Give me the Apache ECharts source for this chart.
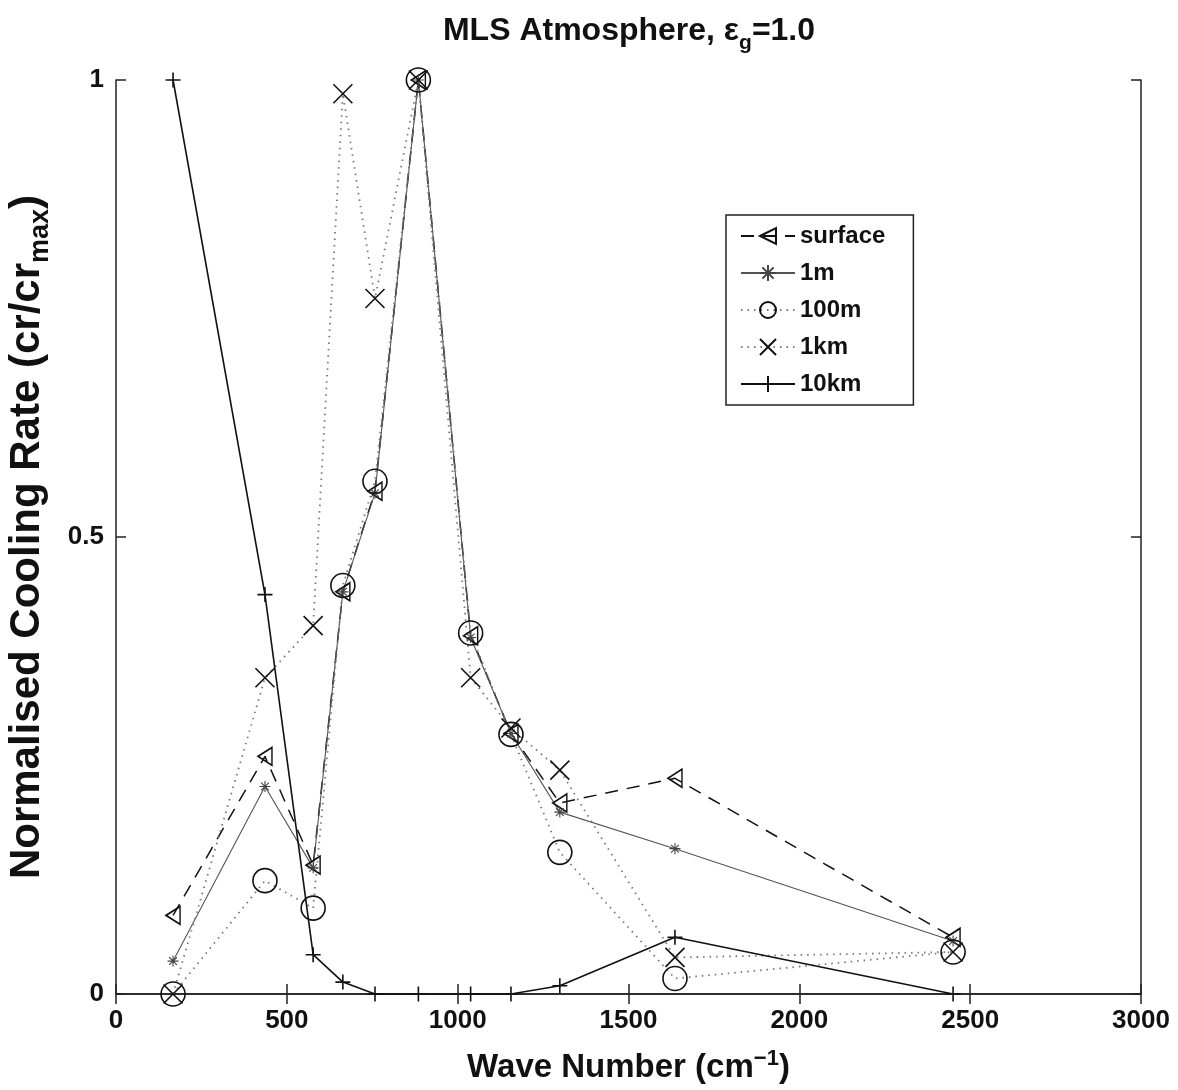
<!DOCTYPE html>
<html><head><meta charset="utf-8">
<script src="https://cdn.jsdelivr.net/npm/echarts@6/dist/echarts.min.js"></script>
<style>html,body{margin:0;padding:0;background:#fff}#c{width:1178px;height:1090px}</style>
</head><body><div id="c"></div>
<script>
// ---- data ----
const waveNumbers = [167, 436, 577, 664, 758, 885, 1038, 1156, 1299, 1636, 2450];
const surface = [0.086, 0.260, 0.141, 0.440, 0.550, 1.0, 0.392, 0.285, 0.209, 0.236, 0.062];
const m1      = [0.036, 0.227, 0.138, 0.440, 0.548, 1.0, 0.390, 0.285, 0.199, 0.159, 0.058];
const m100    = [0.000, 0.124, 0.094, 0.447, 0.561, 1.0, 0.395, 0.284, 0.155, 0.017, 0.046];
const km1     = [0.000, 0.346, 0.403, 0.985, 0.761, 1.0, 0.346, 0.291, 0.245, 0.040, 0.046];
const km10    = [1.000, 0.437, 0.043, 0.013, 0.000, 0.0, 0.000, 0.000, 0.009, 0.062, 0.000];
const seriesNames = ['surface', '1m', '100m', '1km', '10km'];
const xTickValues = [0, 500, 1000, 1500, 2000, 2500, 3000];
const yTickValues = [0, 0.5, 1];

const FONT = "'Liberation Sans', Arial, Helvetica, sans-serif";
const INK = '#111';

function pairs(ys) { return waveNumbers.map((x, i) => [x, ys[i]]); }

const SYM = {
  triLeft: 'path://M0,10L16,0L16,20Z',
  star: 'path://M10,0L10,20M0,10L20,10M3,3L17,17M17,3L3,17',
  circle: 'circle',
  cross: 'path://M0,0L20,20M20,0L0,20',
  plus: 'path://M10,0L10,20M0,10L20,10'
};

function mk(name, ys, symbol, size, line, sym) {
  return {
    name, type: 'line', data: pairs(ys), symbol, symbolSize: size,
    showAllSymbol: true, clip: false, silent: true,
    lineStyle: line,
    itemStyle: Object.assign({color: 'rgba(0,0,0,0)', borderColor: INK, borderWidth: 1.6}, sym || {}),
    emphasis: {disabled: true}
  };
}

const chart = echarts.init(document.getElementById('c'), null, {renderer: 'canvas'});
const axisLineStyle = {color: '#222', width: 1.5};
const commonX = {
  type: 'value', min: 0, max: 3000, interval: 500,
  axisLine: {show: true, lineStyle: axisLineStyle},
  axisTick: {show: true, inside: true, length: 10, lineStyle: axisLineStyle},
  splitLine: {show: false}
};
const commonY = {
  type: 'value', min: 0, max: 1, interval: 0.5,
  axisLine: {show: true, onZero: false, lineStyle: axisLineStyle},
  axisTick: {show: true, inside: true, length: 10, lineStyle: axisLineStyle},
  splitLine: {show: false}
};

chart.setOption({
  animation: false,
  backgroundColor: '#fff',
  title: {
    text: 'MLS Atmosphere, ε{g|g}=1.0',
    left: 624, textAlign: 'center', top: 3,
    textStyle: {
      fontFamily: FONT, fontSize: 32, fontWeight: 'bold', color: INK, lineHeight: 46,
      rich: {g: {fontFamily: FONT, fontSize: 21, fontWeight: 'bold', color: INK, lineHeight: 21, verticalAlign: 'bottom'}}
    }
  },
  grid: {left: 116, right: 37, top: 80, bottom: 96, containLabel: false, outerBoundsMode: 'none'},
  legend: {
    orient: 'vertical', left: 726, top: 215,
    data: seriesNames,
    itemWidth: 54, itemHeight: 20, itemGap: 11,
    padding: [8, 28, 8, 14],
    borderColor: '#222', borderWidth: 1.5, backgroundColor: '#fff',
    textStyle: {fontFamily: FONT, fontSize: 24, fontWeight: 'bold', color: INK, lineHeight: 26},
    selectedMode: false
  },
  xAxis: [
    Object.assign({}, commonX, {
      position: 'bottom',
      axisLabel: {show: true, fontFamily: FONT, fontSize: 26, fontWeight: 'bold', color: INK, margin: 14,
        formatter: v => xTickValues.includes(v) ? String(v) : ''},
      name: 'Wave Number (cm{s|−1})', nameLocation: 'middle', nameGap: 54,
      nameTextStyle: {fontFamily: FONT, fontSize: 33, fontWeight: 'bold', color: INK, lineHeight: 40,
        rich: {s: {fontFamily: FONT, fontSize: 22, fontWeight: 'bold', color: INK, lineHeight: 22, verticalAlign: 'top'}}}
    }),
    Object.assign({}, commonX, {position: 'top', axisLabel: {show: false}})
  ],
  yAxis: [
    Object.assign({}, commonY, {
      position: 'left',
      axisLabel: {show: true, fontFamily: FONT, fontSize: 26, fontWeight: 'bold', color: INK, margin: 12,
        formatter: v => yTickValues.includes(v) ? String(v) : ''},
      name: 'Normalised Cooling Rate (cr/cr{s|max})', nameLocation: 'middle', nameRotate: 90, nameGap: 62,
      nameTextStyle: {fontFamily: FONT, fontSize: 42, fontWeight: 'bold', color: INK, lineHeight: 54,
        rich: {s: {fontFamily: FONT, fontSize: 27, fontWeight: 'bold', color: INK, lineHeight: 27, verticalAlign: 'bottom'}}}
    }),
    Object.assign({}, commonY, {position: 'right', axisLabel: {show: false}})
  ],
  series: [
    mk('surface', surface, SYM.triLeft, [14, 18], {color: INK, width: 1.5, type: [13, 9]}),
    mk('1m', m1, SYM.star, 11, {color: '#555', width: 1.1, type: 'solid'}, {borderColor: '#444', borderWidth: 1.1}),
    mk('100m', m100, SYM.circle, 24, {color: '#777', width: 1.8, type: [1.5, 5]}),
    mk('1km', km1, SYM.cross, 19, {color: '#777', width: 1.8, type: [1.5, 5]}),
    mk('10km', km10, SYM.plus, 15, {color: INK, width: 1.6, type: 'solid'})
  ]
});
</script>
</body></html>
